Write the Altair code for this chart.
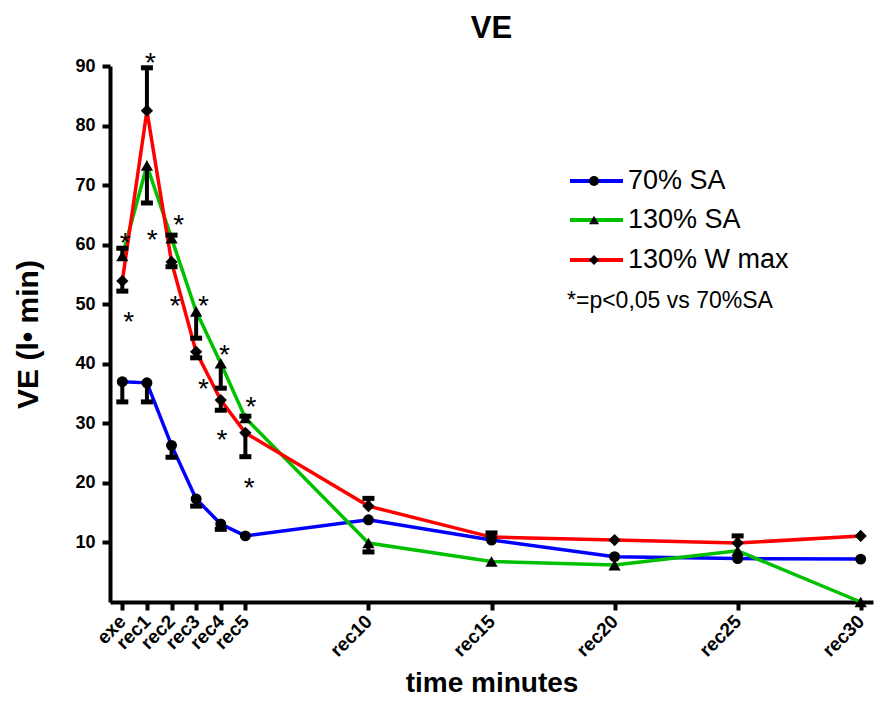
import altair as alt
import pandas as pd

# ---------------- data ----------------
labels = ["exe", "rec1", "rec2", "rec3", "rec4", "rec5", "rec10", "rec15", "rec20", "rec25", "rec30"]
times = [0, 1, 2, 3, 4, 5, 10, 15, 20, 25, 30]

series_names = ["70% SA", "130% SA", "130% W max"]
series_colors = ["#0000FF", "#00C000", "#FF0000"]
series_shapes = ["circle", "triangle-up", "diamond"]

sa70 = [37.0, 36.8, 26.3, 17.3, 13.1, 11.1, 13.8, 10.4, 7.6, 7.3, 7.2]
sa130 = [58.1, 73.3, 61.1, 48.8, 40.1, 30.9, 9.9, 6.8, 6.2, 8.6, 0.0]
wmax130 = [53.9, 82.5, 57.1, 42.0, 33.9, 28.4, 16.1, 10.9, 10.4, 9.9, 11.1]

# error bar end points (one-sided, as drawn); None = no visible bar
sa70_err = [33.6, 33.6, 24.3, 16.1, 12.2, None, None, None, None, None, None]
sa130_err = [59.4, 67.0, 61.6, 44.3, 35.9, 31.2, 8.4, None, None, None, None]
wmax130_err = [52.2, 89.7, 56.3, 41.0, 32.2, 24.4, 17.4, 11.6, None, 11.1, None]

# significance asterisks (time, value)
star_t = [1.14, 0.12, 1.21, 2.29, 0.26, 2.15, 3.30, 4.15, 3.30, 5.23, 4.05, 5.16]
star_v = [91.6, 61.4, 62.0, 64.5, 48.2, 50.9, 50.9, 42.7, 36.9, 33.9, 28.4, 20.3]

note_text = "*=p<0,05 vs 70%SA"

# ---------------- tables ----------------
values = [sa70, sa130, wmax130]
errs = [sa70_err, sa130_err, wmax130_err]

rows = []
for name, vals, ers in zip(series_names, values, errs):
    for t, lab, v, e in zip(times, labels, vals, ers):
        rows.append({"series": name, "time": t, "label": lab, "value": v, "err": e})
df = pd.DataFrame(rows)
df_err = df.dropna(subset=["err"])
df_star = pd.DataFrame({"time": star_t, "value": star_v})

FONT = "Liberation Sans"
label_map = "{" + ",".join(f"'{t}':'{l}'" for t, l in zip(times, labels)) + "}"

x_scale = alt.Scale(domain=[-0.5, 30.5], nice=False, zero=False)
y_scale = alt.Scale(domain=[0, 90], nice=False)

x_enc = alt.X(
    "time:Q",
    scale=x_scale,
    axis=alt.Axis(
        values=times,
        labelExpr=f"{label_map}[datum.value + '']",
        labelAngle=-45,
        labelAlign="right",
        labelBaseline="middle",
        labelFontSize=19,
        labelPadding=8,
        labelOverlap=False,
        labelBound=False,
        labelFlush=False,
        title="time minutes",
        titleFontSize=28,
        titlePadding=9,
    ),
)
y_enc = alt.Y(
    "value:Q",
    scale=y_scale,
    axis=alt.Axis(
        values=[10, 20, 30, 40, 50, 60, 70, 80, 90],
        labelFontSize=18,
        labelPadding=7,
        labelOverlap=False,
        title="VE (l\u2022 min)",
        titleFontSize=30,
        titlePadding=31,
    ),
)

layers = []
# lines
for name, col in zip(series_names, series_colors):
    layers.append(
        alt.Chart(df[df.series == name])
        .mark_line(color=col, strokeWidth=3.5)
        .encode(x=x_enc, y=y_enc)
    )
# error bars
layers.append(
    alt.Chart(df_err)
    .mark_rule(color="black", strokeWidth=4)
    .encode(x="time:Q", y="value:Q", y2="err:Q")
)
layers.append(
    alt.Chart(df_err)
    .mark_tick(color="black", thickness=5, size=12, orient="horizontal", opacity=1)
    .encode(x="time:Q", y="err:Q")
)
# markers
for name, shp in zip(series_names, series_shapes):
    sz = 120 if shp == "circle" else 150
    layers.append(
        alt.Chart(df[df.series == name])
        .mark_point(shape=shp, filled=True, color="black", size=sz, opacity=1)
        .encode(x="time:Q", y="value:Q")
    )
# asterisks
layers.append(
    alt.Chart(df_star)
    .mark_text(text="*", font=FONT, fontSize=28, color="black", baseline="alphabetic", dy=16)
    .encode(x="time:Q", y="value:Q")
)

# legend (manual, positioned in plot pixels)
leg_x0, leg_x1, leg_mx, leg_tx = 460, 513, 484, 518
leg_rows = [115, 154, 194]
for name, col, shp, yy in zip(series_names, series_colors, series_shapes, leg_rows):
    layers.append(
        alt.Chart(df.head(1))
        .mark_rule(color=col, strokeWidth=4)
        .encode(x=alt.value(leg_x0), x2=alt.value(leg_x1), y=alt.value(yy))
    )
    layers.append(
        alt.Chart(df.head(1))
        .mark_point(shape=shp, filled=True, color="black", size=100, opacity=1)
        .encode(x=alt.value(leg_mx), y=alt.value(yy))
    )
    layers.append(
        alt.Chart(df.head(1))
        .mark_text(text=name, font=FONT, fontSize=27, align="left", baseline="middle", color="black")
        .encode(x=alt.value(leg_tx), y=alt.value(yy))
    )
layers.append(
    alt.Chart(df.head(1))
    .mark_text(text=note_text, font=FONT, fontSize=23, align="left", baseline="middle", color="black")
    .encode(x=alt.value(457), y=alt.value(235))
)

chart = (
    alt.layer(*layers)
    .properties(
        width=763,
        height=536,
        title=alt.TitleParams("VE", font=FONT, fontSize=31, fontWeight="bold", anchor="middle", offset=5, color="black"),
        autosize=alt.AutoSizeParams(type="none"),
        padding={"left": 102, "top": 58, "right": 11, "bottom": 98},
    )
    .configure_view(stroke=None)
    .configure_axis(
        grid=False,
        domainColor="black",
        domainWidth=4,
        tickColor="black",
        tickWidth=4,
        tickSize=8,
        labelFont=FONT,
        labelFontWeight="bold",
        labelColor="black",
        titleFont=FONT,
        titleFontWeight="bold",
        titleColor="black",
    )
)

chart.save("out.html", embed_options={"renderer": "svg", "actions": False})
